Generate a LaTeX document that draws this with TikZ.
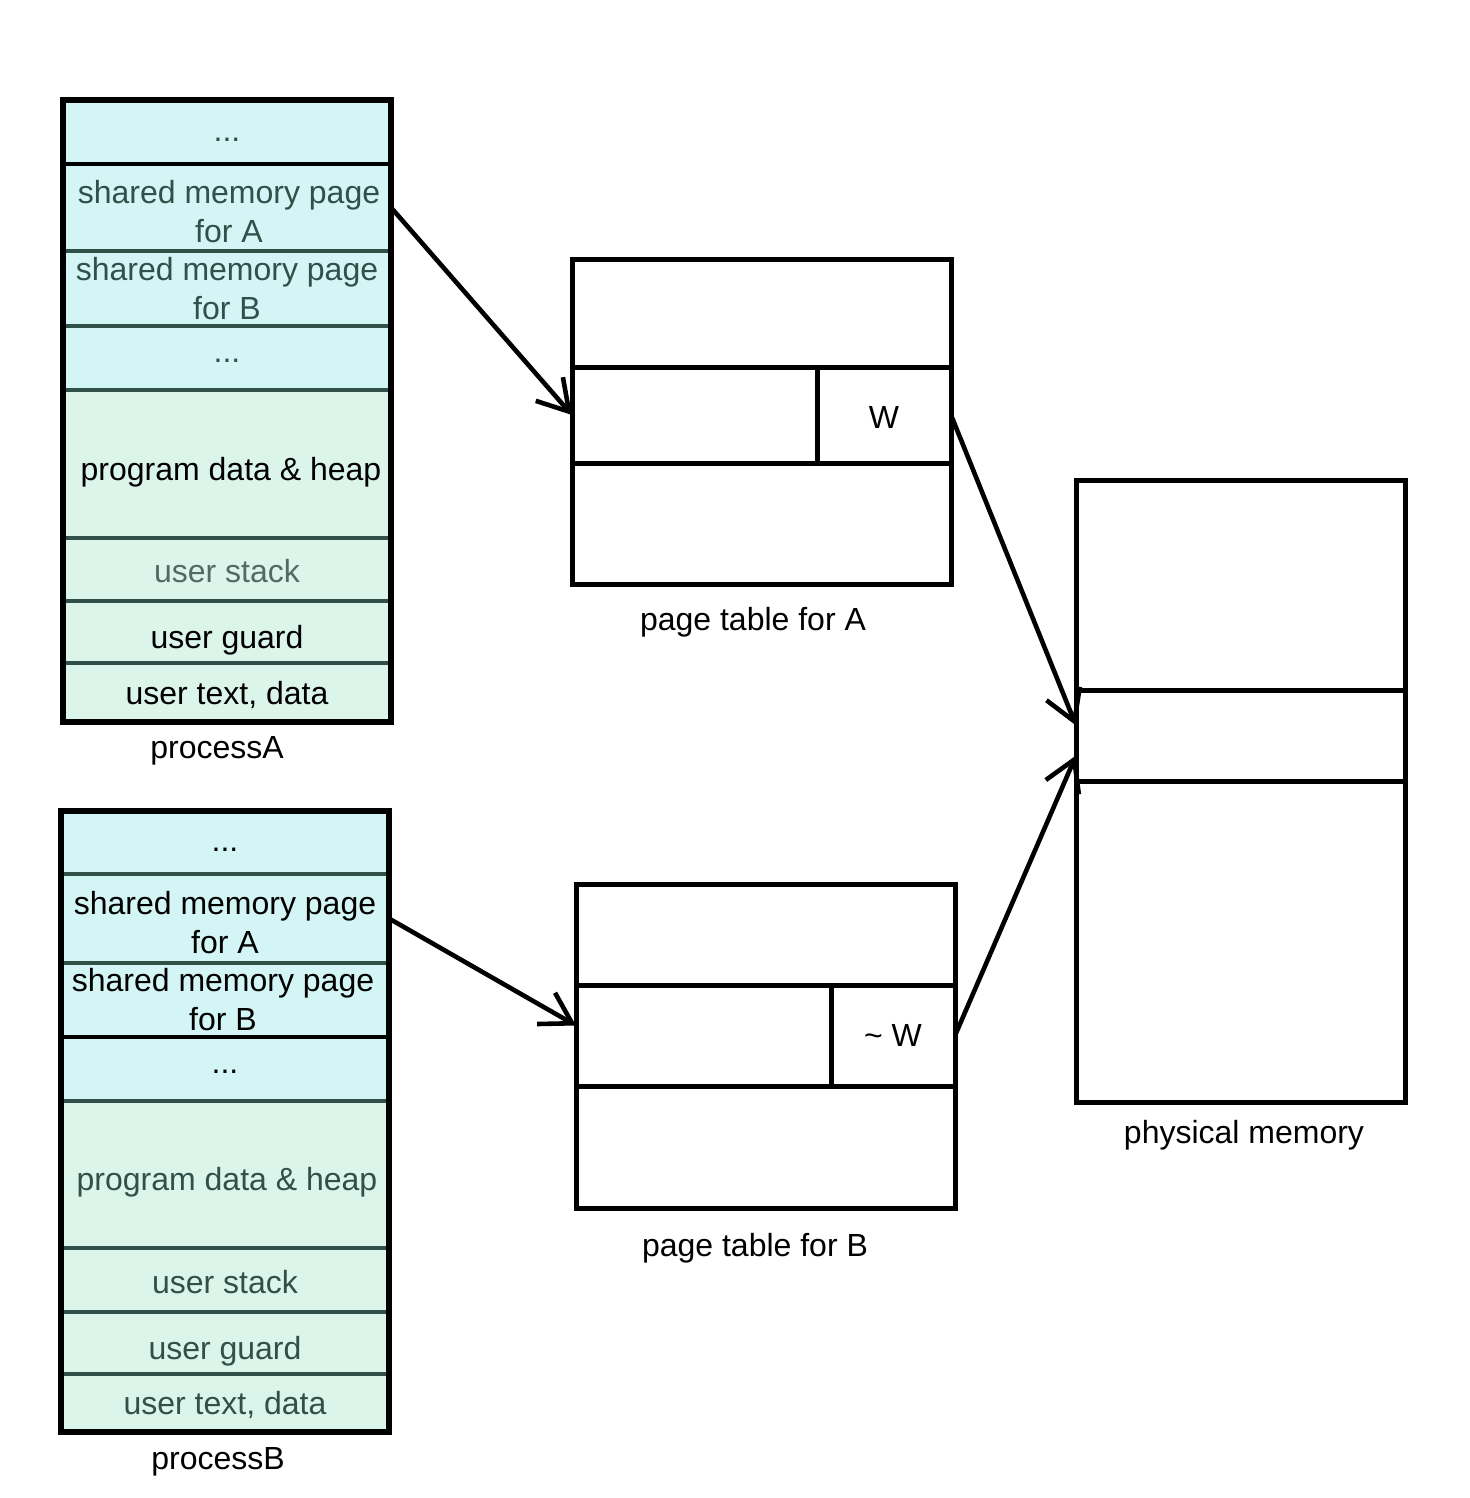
\documentclass[tikz,border=0pt]{standalone}
\usepackage{fontspec}
\setmainfont{Liberation Sans}
\usetikzlibrary{arrows.meta}
\definecolor{shmem}{RGB}{211,245,245}
\definecolor{privmem}{RGB}{219,245,235}
\definecolor{slate}{RGB}{50,80,74}
\begin{document}
\begin{tikzpicture}[x=1pt,y=-1pt,
  txt/.style={font=\fontsize{16}{19.5}\selectfont},
  cell/.style={txt, rectangle, inner sep=0pt, outer sep=0pt, align=center, draw=none},
  lbl/.style={txt, align=center, inner sep=0pt},
  shared/.style={cell, fill=shmem, minimum width=164pt},
  private/.style={cell, fill=privmem, minimum width=164pt},
  slot/.style={cell, fill=white},
  divider/.style={line width=2.2pt, draw=slate},
  blackdiv/.style={line width=2.2pt, draw=black},
  frame/.style={line width=2.6pt, draw=black},
  tline/.style={line width=2.5pt, draw=black},
  link/.style={line width=2.3pt, -{Straight Barb[length=15pt,width=18pt]}},
  caption/.style={txt, inner sep=0pt}
]
\useasboundingbox (0,0) rectangle (735,749);

% ---- address space of process A ----
\node[shared, minimum height=32pt,
  label={[lbl,text=slate,yshift=-4pt]center:...}] (a1) at (113.5,66) {};
\node[shared, minimum height=43.5pt,
  label={[lbl,text=slate,yshift=-2pt,xshift=1pt]center:{shared memory page\\for A}}] (a2) at (113.5,103.75) {};
\node[shared, minimum height=37.5pt,
  label={[lbl,text=slate]center:{shared memory page\\for B}}] (a3) at (113.5,144.25) {};
\node[shared, minimum height=32pt,
  label={[lbl,text=slate,yshift=-1.5pt]center:...}] (a4) at (113.5,179) {};
\node[private, minimum height=74pt,
  label={[lbl,yshift=-4pt,xshift=2pt]center:{program data \& heap}}] (a5) at (113.5,232) {};
\node[private, minimum height=31.5pt,
  label={[lbl,text=slate!85,yshift=-1pt]center:{user stack}}] (a6) at (113.5,284.75) {};
\node[private, minimum height=31pt,
  label={[lbl,yshift=-4pt]center:{user guard}}] (a7) at (113.5,316) {};
\node[private, minimum height=29.5pt,
  label={[lbl,yshift=-1pt]center:{user text, data}}] (a8) at (113.5,346.25) {};
\draw[blackdiv] (a1.south west) -- (a1.south east);
\foreach \r in {a2,a3,a4,a5,a6,a7} \draw[divider] (\r.south west) -- (\r.south east);
\draw[frame] (a1.north west) rectangle (a8.south east);
\node[caption] (procA) at (108.5,375.5) {processA};

% ---- address space of process B ----
\node[shared, minimum height=31.5pt,
  label={[lbl,yshift=-3.5pt]center:...}] (b1) at (112.5,421.25) {};
\node[shared, minimum height=44.5pt,
  label={[lbl,yshift=-2pt]center:{shared memory page\\for A}}] (b2) at (112.5,459.25) {};
\node[shared, minimum height=37pt,
  label={[lbl,xshift=-1pt]center:{shared memory page\\for B}}] (b3) at (112.5,500) {};
\node[shared, minimum height=32pt,
  label={[lbl,yshift=-1.5pt]center:...}] (b4) at (112.5,534.5) {};
\node[private, minimum height=73.5pt,
  label={[lbl,text=slate,yshift=-4pt,xshift=1pt]center:{program data \& heap}}] (b5) at (112.5,587.25) {};
\node[private, minimum height=32pt,
  label={[lbl,text=slate,yshift=-1pt]center:{user stack}}] (b6) at (112.5,640) {};
\node[private, minimum height=31pt,
  label={[lbl,text=slate,yshift=-4pt]center:{user guard}}] (b7) at (112.5,671.5) {};
\node[private, minimum height=29pt,
  label={[lbl,text=slate,yshift=-1pt]center:{user text, data}}] (b8) at (112.5,701.5) {};
\foreach \r in {b1,b2,b4,b5,b6,b7} \draw[divider] (\r.south west) -- (\r.south east);
\draw[blackdiv] (b3.south west) -- (b3.south east);
\draw[frame] (b1.north west) rectangle (b8.south east);
\node[caption] (procB) at (109,731) {processB};

% ---- page table for A ----
\node[slot, minimum width=189.5pt, minimum height=53.5pt] (pa1)  at (380.75,156.75) {};
\node[slot, minimum width=122.5pt, minimum height=48pt]   (pa2l) at (347.25,207.5)  {};
\node[slot, minimum width=67pt, minimum height=48pt,
  label={[lbl,yshift=-1pt]center:W}] (pa2r) at (442,207.5) {};
\node[slot, minimum width=189.5pt, minimum height=60.5pt] (pa3)  at (380.75,261.75) {};
\draw[tline] (pa1.north west) rectangle (pa3.south east);
\draw[tline] (pa1.south west) -- (pa1.south east);
\draw[tline] (pa3.north west) -- (pa3.north east);
\draw[tline] (pa2r.north west) -- (pa2r.south west);
\node[caption] (ptA) at (376.5,311) {page table for A};

% ---- page table for B ----
\node[slot, minimum width=189.5pt, minimum height=50.5pt] (pb1)  at (382.75,467.25) {};
\node[slot, minimum width=127.5pt, minimum height=50.5pt] (pb2l) at (351.75,517.75) {};
\node[slot, minimum width=62pt, minimum height=50.5pt,
  label={[lbl]center:{\textasciitilde{} W}}] (pb2r) at (446.5,517.75) {};
\node[slot, minimum width=189.5pt, minimum height=61pt]   (pb3)  at (382.75,573.5)  {};
\draw[tline] (pb1.north west) rectangle (pb3.south east);
\draw[tline] (pb1.south west) -- (pb1.south east);
\draw[tline] (pb3.north west) -- (pb3.north east);
\draw[tline] (pb2r.north west) -- (pb2r.south west);
\node[caption] (ptB) at (377.5,624) {page table for B};

% ---- physical memory ----
\node[slot, minimum width=164.5pt, minimum height=105pt]   (m1) at (620.25,292.5)  {};
\node[slot, minimum width=164.5pt, minimum height=45.5pt]  (m2) at (620.25,367.75) {};
\node[slot, minimum width=164.5pt, minimum height=160.5pt] (m3) at (620.25,470.75) {};
\draw[tline] (m1.north west) rectangle (m3.south east);
\draw[tline] (m1.south west) -- (m1.south east);
\draw[tline] (m3.north west) -- (m3.north east);
\node[caption] (phys) at (622,567.5) {physical memory};

% ---- mappings ----
\draw[link] (a2.east) -- (pa2l.west);
\draw[link] (pa2r.east) -- ([yshift=5pt]m2.west);
\draw[link] (b2.east) -- ([yshift=5pt]pb2l.west);
\draw[link] (pb2r.east) -- ([yshift=-10pt]m2.west);
\end{tikzpicture}
\end{document}
